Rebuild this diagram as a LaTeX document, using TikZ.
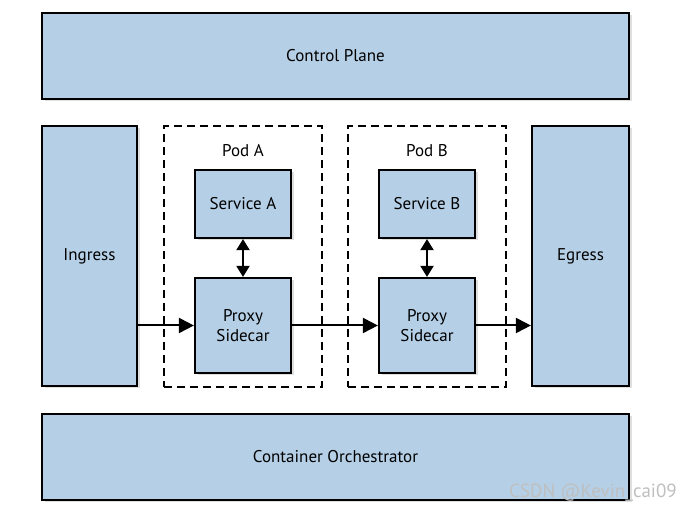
\documentclass[tikz,border=0pt]{standalone}
\usepackage{fontspec}
\setmainfont{PT Sans}
\usetikzlibrary{arrows.meta,shadows}
\definecolor{boxblue}{RGB}{181,208,230}
\begin{document}
\begin{tikzpicture}
        [x=1pt, y=1pt,
        box/.style={rectangle, draw, line width=2.2pt, fill=boxblue, inner sep=0pt,
            drop shadow={shadow xshift=2.5pt, shadow yshift=-2.5pt, opacity=0.25},
            font=\fontsize{17}{20}\selectfont, align=center},
        pod/.style={rectangle, draw, line width=1.8pt, dash pattern=on 8pt off 5pt, inner sep=0pt},
        flow/.style={line width=2pt, -{Triangle[length=15pt,width=15pt]}},
        link/.style={line width=2pt, {Triangle[length=11pt,width=13pt]}-{Triangle[length=11pt,width=13pt]}}]
        \useasboundingbox (0,0) rectangle (692,513);
        \node[box, minimum width=587, minimum height=86] (control) at (335.5,457) {Control Plane};
        \node[box, minimum width=95, minimum height=260] (ingress) at (89.5,257) {Ingress};
        \node[box, minimum width=97, minimum height=260] (egress) at (580.5,257) {Egress};
        \node[box, minimum width=587, minimum height=86] (orch) at (335.5,56) {Container Orchestrator};
        
        \node[pod, minimum width=158, minimum height=261] (podA) at (243,256.5) {};
        \node[font=\fontsize{17}{20}\selectfont] (podAname) at (243,362) {Pod A};
        \node[box, minimum width=96, minimum height=68] (serviceA) at (243,309) {Service A};
        \node[box, minimum width=96, minimum height=95] (proxyA) at (243,187.5) {Proxy\\Sidecar};
        
        \node[pod, minimum width=158, minimum height=261] (podB) at (427,256.5) {};
        \node[font=\fontsize{17}{20}\selectfont] (podBname) at (427,362) {Pod B};
        \node[box, minimum width=96, minimum height=68] (serviceB) at (427,309) {Service B};
        \node[box, minimum width=96, minimum height=95] (proxyB) at (427,187.5) {Proxy\\Sidecar};
        
        \draw[link] (serviceA) -- (proxyA);
        \draw[link] (serviceB) -- (proxyB);
        \draw[flow] (ingress.east |- proxyA.west) -- (proxyA.west);
        \draw[flow] (proxyA) -- (proxyB);
        \draw[flow] (proxyB.east) -- (egress.west |- proxyB.east);
        
        \node[text=gray!50, font=\fontsize{19}{22}\selectfont] (mark) at (593,20) {CSDN @Kevin\_cai09};
    \end{tikzpicture}
\end{document}
